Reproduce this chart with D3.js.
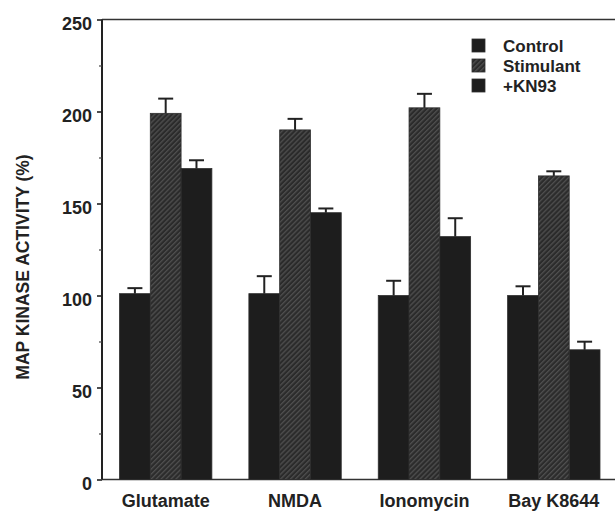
<!DOCTYPE html>
<html>
<head>
<meta charset="utf-8">
<script src="https://cdn.jsdelivr.net/npm/d3@7"></script>
<style>
  html, body { margin: 0; padding: 0; background: #fff; }
  svg { display: block; }
  text { font-family: "Liberation Sans", Arial, Helvetica, sans-serif; font-weight: bold; fill: #222; }
</style>
</head>
<body>
<svg id="chart" width="615" height="513"></svg>
<script>
const categories = ["Glutamate", "NMDA", "Ionomycin", "Bay K8644"];
const seriesNames = ["Control", "Stimulant", "+KN93"];
const controlValues = [101, 101, 100, 100];
const stimulantValues = [199, 190, 202, 165];
const kn93Values = [169, 145, 132, 70.5];
const controlErrors = [3, 9.5, 8, 5];
const stimulantErrors = [8, 6, 7.6, 2.5];
const kn93Errors = [4.5, 2.3, 10, 4.4];
const yMajorTicks = [0, 50, 100, 150, 200, 250];
const yMinorTicks = [25, 75, 125, 175, 225];

const seriesValues = [controlValues, stimulantValues, kn93Values];
const seriesErrors = [controlErrors, stimulantErrors, kn93Errors];

const svg = d3.select("#chart");
const W = 615, H = 513;
const axisX = 102, plotTop = 19.5, plotBottom = 479.5;

// pattern for hatched bars
const defs = svg.append("defs");
const pat = defs.append("pattern")
  .attr("id", "hatch")
  .attr("patternUnits", "userSpaceOnUse")
  .attr("width", 3.5).attr("height", 3.5)
  .attr("patternTransform", "rotate(45)");
pat.append("rect").attr("width", 3.5).attr("height", 3.5).attr("fill", "#2b2b2b");
pat.append("rect").attr("x", 0).attr("width", 1.3).attr("height", 3.5).attr("fill", "#4f4f4f");

const fills = ["#1d1d1d", "url(#hatch)", "#1d1d1d"];

const y = d3.scaleLinear().domain([0, 250]).range([plotBottom, plotTop]);
const x0 = d3.scaleBand().domain(categories).range([119.5, 600]).paddingInner(0.286).paddingOuter(0);
const x1 = d3.scaleBand().domain(seriesNames).range([0, x0.bandwidth()]).padding(0);

// frame lines
svg.append("line").attr("x1", axisX).attr("x2", W).attr("y1", plotTop).attr("y2", plotTop)
  .attr("stroke", "#333").attr("stroke-width", 1.6);
svg.append("line").attr("x1", axisX).attr("x2", W).attr("y1", plotBottom).attr("y2", plotBottom)
  .attr("stroke", "#333").attr("stroke-width", 1.6);

// bars
const groups = svg.append("g").selectAll("g")
  .data(categories).join("g")
  .attr("transform", d => `translate(${x0(d)},0)`);

seriesNames.forEach((s, si) => {
  groups.append("rect")
    .attr("x", x1(s))
    .attr("width", x1.bandwidth())
    .attr("y", (d, i) => y(seriesValues[si][i]))
    .attr("height", (d, i) => y(0) - y(seriesValues[si][i]))
    .attr("fill", fills[si])
    .attr("stroke", "#2e2e2e")
    .attr("stroke-width", 0.8);
});

// error bars (upper only)
seriesNames.forEach((s, si) => {
  const cx = x1(s) + x1.bandwidth() / 2;
  groups.append("line")
    .attr("x1", cx).attr("x2", cx)
    .attr("y1", (d, i) => y(seriesValues[si][i]))
    .attr("y2", (d, i) => y(seriesValues[si][i] + seriesErrors[si][i]))
    .attr("stroke", "#222").attr("stroke-width", 2);
  groups.append("line")
    .attr("x1", cx - 7.5).attr("x2", cx + 7.5)
    .attr("y1", (d, i) => y(seriesValues[si][i] + seriesErrors[si][i]))
    .attr("y2", (d, i) => y(seriesValues[si][i] + seriesErrors[si][i]))
    .attr("stroke", "#222").attr("stroke-width", 2);
});

// y axis
const yAxis = d3.axisLeft(y).tickValues(yMajorTicks).tickSize(5).tickPadding(5).tickFormat(d3.format("d"));
const gy = svg.append("g").attr("transform", `translate(${axisX},0)`).call(yAxis);
gy.select(".domain").attr("stroke", "#222").attr("stroke-width", 2).attr("d", `M0,${plotTop}V${plotBottom}`);
gy.selectAll(".tick line").attr("stroke", "#222").attr("stroke-width", 1.6);
gy.selectAll(".tick text").attr("font-size", 18).attr("font-family", null).attr("dy", "0.55em").attr("fill", "#222");
const gyMinor = svg.append("g").attr("transform", `translate(${axisX},0)`)
  .call(d3.axisLeft(y).tickValues(yMinorTicks).tickSize(3).tickFormat(""));
gyMinor.select(".domain").remove();
gyMinor.selectAll(".tick line").attr("stroke", "#444").attr("stroke-width", 1.2);

// x axis labels
const xAxis = d3.axisBottom(x0).tickSize(0).tickPadding(15);
const gx = svg.append("g").attr("transform", `translate(0,${plotBottom})`).call(xAxis);
gx.select(".domain").remove();
gx.selectAll(".tick text").attr("font-size", 18).attr("font-family", null).attr("fill", "#222");

// y axis title
svg.append("text")
  .attr("transform", `translate(29,267) rotate(-90)`)
  .attr("text-anchor", "middle")
  .attr("font-size", 17.5)
  .text("MAP KINASE ACTIVITY (%)");

// legend
const legend = svg.append("g").attr("transform", "translate(472,39)");
seriesNames.forEach((s, i) => {
  legend.append("rect").attr("x", 0).attr("y", i * 20).attr("width", 13).attr("height", 13)
    .attr("fill", fills[i]).attr("stroke", "#2e2e2e").attr("stroke-width", 0.8);
  legend.append("text").attr("x", 31).attr("y", i * 20 + 13).attr("font-size", 17).text(s);
});
</script>
</body>
</html>
